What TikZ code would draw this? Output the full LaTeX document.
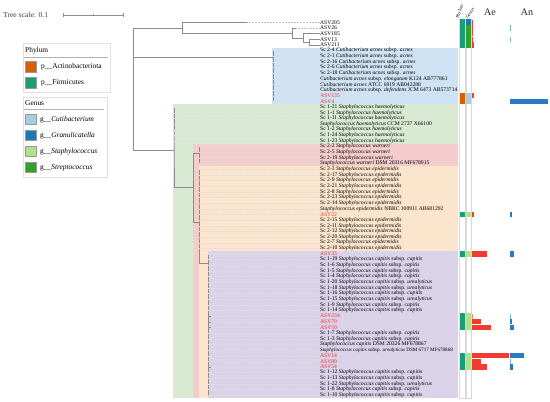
\documentclass[tikz,border=0pt]{standalone}
\usepackage{fontspec}
\setmainfont{Liberation Serif}
\definecolor{cutbox}{HTML}{CFE2F3}
\definecolor{grnbox}{HTML}{D9EAD3}
\definecolor{pinkbox}{HTML}{F4CCCC}
\definecolor{orgbox}{HTML}{FCE5CD}
\definecolor{purbox}{HTML}{D9D2E9}
\definecolor{actino}{HTML}{D95F02}
\definecolor{firmi}{HTML}{1B9E77}
\definecolor{cuti}{HTML}{A6CEE3}
\definecolor{granu}{HTML}{1F78B4}
\definecolor{staph}{HTML}{B2DF8A}
\definecolor{strep}{HTML}{33A02C}
\definecolor{aered}{HTML}{F03C32}
\definecolor{anblue}{HTML}{2B7BC4}
\definecolor{asvred}{HTML}{E8322F}
\definecolor{treegray}{HTML}{8C8C8C}
\tikzset{
 tree/.style={draw=treegray, line width=0.6pt},
 guide/.style={draw=black!13, line width=0.25pt, dash pattern=on 0.6pt off 0.9pt},
 leaf/.style={anchor=west, inner sep=0pt, font=\fontsize{5.6}{6}\selectfont},
 asv/.style={text=asvred},
 lgtext/.style={anchor=west, inner sep=0pt, font=\fontsize{7.4}{8}\selectfont},
 swatch/.style={draw=black!40, line width=0.3pt},
 lgbox/.style={draw=black!12, line width=0.6pt},
 colframe/.style={draw=black!15, line width=0.5pt},
}
\newcommand\lf[3][]{\node[leaf,#1] (l#2) at (320,{22.3+(#2-1)*5.65}) {#3};}
\newcommand\capi[1]{Sc #1 \textit{Staphylococcus capitis} subsp. \textit{capitis}}
\newcommand\urea[1]{Sc #1 \textit{Staphylococcus capitis} subsp. \textit{urealyticus}}
\newcommand\acn[1]{Sc #1 \textit{Cutibacterium acnes} subsp. \textit{acnes}}
\newcommand\hae[1]{Sc #1 \textit{Staphylococcus haemolyticus}}
\newcommand\war[1]{Sc #1 \textit{Staphylococcus warneri}}
\newcommand\epi[1]{Sc #1 \textit{Staphylococcus epidermidis}}
% fill between rows
\newcommand\blockfill[5]{\fill[#1] (#2,{22.3+(#4-1)*5.65-2.825}) rectangle (#3,{22.3+(#5-1)*5.65+2.825});}
\newcommand\rowfill[4]{\fill[#1] (#2,{22.3+(#4-1)*5.65-2.6}) rectangle (#3,{22.3+(#4-1)*5.65+2.6});}
\begin{document}
\begin{tikzpicture}[x=1pt,y=-1pt]
\useasboundingbox (0,0) rectangle (550,402);
\fill[white] (0,0) rectangle (550,402);

% clade backgrounds
\fill[cutbox] (272,47.7) rectangle (458,104.2);
\fill[grnbox] (173,104.2) rectangle (458,398);
\fill[pinkbox] (193,143.8) rectangle (458,398);
\fill[orgbox] (199,166.4) rectangle (458,398);
\fill[purbox] (208,251.1) rectangle (458,398);

% tree scale
\node[lgtext, font=\fontsize{7.6}{8}\selectfont, text=black!75] (scaletxt) at (3,15) {Tree scale: 0.1};
\coordinate (sa) at (63,15);
\coordinate (sb) at (123,15);
\draw[treegray, line width=0.6pt] (sa) -- (sb);
\draw[treegray, line width=0.6pt] (63,13.3) -- (63,16.7) (123,13.3) -- (123,16.7) (93,14.3) -- (93,15.7);

% legend
\draw[lgbox] (23,43) rectangle (110,92);
\node[lgtext] (phyt) at (25,51) {Phylum};
\draw[black!30, line width=0.8pt] (24,57) -- (108,57);
\filldraw[swatch, fill=actino] (25,61) rectangle (36,72);
\node[lgtext] (lga) at (41,66.5) {p\_\_Actinobacteriota};
\filldraw[swatch, fill=firmi] (25,77) rectangle (36,88);
\node[lgtext] (lgf) at (41,82.5) {p\_\_Firmicutes};

\draw[lgbox] (23,97) rectangle (107,177);
\node[lgtext] (gent) at (25,103) {Genus};
\draw[black!30, line width=0.8pt] (24,109.5) -- (104,109.5);
\filldraw[swatch, fill=cuti] (25,114) rectangle (36,124.5);
\node[lgtext] (lgc) at (40,119.5) {g\_\_\textit{Cutibacterium}};
\filldraw[swatch, fill=granu] (25,130) rectangle (36,140.5);
\node[lgtext] (lgg) at (40,135.5) {g\_\_\textit{Granulicatella}};
\filldraw[swatch, fill=staph] (25,146) rectangle (36,156.5);
\node[lgtext] (lgs) at (40,151.5) {g\_\_\textit{Staphylococcus}};
\filldraw[swatch, fill=strep] (25,162) rectangle (36,172.5);
\node[lgtext] (lgst) at (40,167.5) {g\_\_\textit{Streptococcus}};

% leaves
\lf{1}{ASV205}
\lf{2}{ASV26}
\lf{3}{ASV185}
\lf{4}{ASV13}
\lf{5}{ASV211}
\lf{6}{\acn{2-4}}
\lf{7}{\acn{2-1}}
\lf{8}{\acn{2-16}}
\lf{9}{\acn{2-6}}
\lf{10}{\acn{2-18}}
\lf{11}{\textit{Cutibacterium acnes} subsp. \textit{elongatum} K124 AB777861}
\lf{12}{\textit{Cutibacterium acnes} ATCC 6919 AB042288}
\lf{13}{\textit{Cutibacterium acnes} subsp. \textit{defendens} JCM 6473 AB573714}
\lf[asv]{14}{ASV135}
\lf[asv]{15}{ASV4}
\lf{16}{\hae{1-21}}
\lf{17}{\hae{1-1}}
\lf{18}{\hae{1-11}}
\lf{19}{\textit{Staphylococcus haemolyticus} CCM 2737 X66100}
\lf{20}{\hae{1-2}}
\lf{21}{\hae{1-24}}
\lf{22}{\hae{1-23}}
\lf{23}{\war{2-2}}
\lf{24}{\war{2-5}}
\lf{25}{\war{2-19}}
\lf{26}{\textit{Staphylococcus warneri} DSM 20316 MF678915}
\lf{27}{\epi{2-3}}
\lf{28}{\epi{2-17}}
\lf{29}{\epi{2-9}}
\lf{30}{\epi{2-21}}
\lf{31}{\epi{2-8}}
\lf{32}{\epi{2-23}}
\lf{33}{\epi{2-14}}
\lf{34}{\textit{Staphylococcus epidermidis} NBRC 100911 AB681292}
\lf[asv]{35}{ASV22}
\lf{36}{\epi{2-15}}
\lf{37}{\epi{2-11}}
\lf{38}{\epi{2-12}}
\lf{39}{\epi{2-20}}
\lf{40}{\epi{2-7}}
\lf{41}{\epi{2-10}}
\lf[asv]{42}{ASV35}
\lf{43}{\capi{1-19}}
\lf{44}{\capi{1-6}}
\lf{45}{\capi{1-5}}
\lf{46}{\capi{1-4}}
\lf{47}{\urea{1-20}}
\lf{48}{\urea{1-18}}
\lf{49}{\capi{1-16}}
\lf{50}{\urea{1-15}}
\lf{51}{\capi{1-9}}
\lf{52}{\capi{1-14}}
\lf[asv]{53}{ASV234}
\lf[asv]{54}{ASV79}
\lf[asv]{55}{ASV50}
\lf{56}{\capi{1-7}}
\lf{57}{\capi{1-3}}
\lf{58}{\textit{Staphylococcus capitis} DSM 20326 MF678867}
\lf[font=\fontsize{5.1}{6}\selectfont]{59}{\textit{Staphylococcus capitis} subsp. \textit{urealyticus} DSM 6717 MF678868}
\lf[asv]{60}{ASV14}
\lf[asv]{61}{ASV89}
\lf[asv]{62}{ASV54}
\lf{63}{\capi{1-12}}
\lf{64}{\capi{1-13}}
\lf{65}{\urea{1-22}}
\lf{66}{\capi{1-8}}
\lf{67}{\capi{1-10}}

% internal nodes
\coordinate (root) at (133,89);
\coordinate (A) at (182,28);
\coordinate (B) at (292,32.9);
\coordinate (C) at (303,37.9);
\coordinate (D) at (309,42.1);
\coordinate (cut) at (273,57);
\coordinate (G) at (174,150);
\coordinate (P) at (193,187.5);
\coordinate (W) at (199,153);
\coordinate (E) at (199,222);
\coordinate (Cn) at (208,263);
\coordinate (t1) at (247,22.3);
\coordinate (t2) at (296,27.95);

% top clade
\draw[tree] (root) |- (A);
\draw[tree] (root) |- (cut);
\draw[tree] (root) |- (G);
\draw[tree] (A) |- (t1);
\draw[tree] (A) |- (B);
\draw[tree] (B) |- (t2);
\draw[tree] (B) |- (C);
\draw[tree] (C) |- (l3.west);
\draw[tree] (C) |- (D);
\draw[tree] (D) |- (l4.west);
\draw[tree] (D) |- (l5.west);
\draw[guide, draw=black!25] (t1) -- (l1.west);
\draw[guide, draw=black!25] (t2) -- (l2.west);

% Cutibacterium clade
\draw[tree] (cut |- l6.west) -- (cut |- l15.west);
\foreach \r in {6,...,15} {\draw[guide] (cut |- l\r.west) -- (l\r.west);}

% Staphylococcus clade
\draw[tree] (G |- l16.west) -- (G) |- (P);
\foreach \r in {16,...,22} {\draw[guide] (G |- l\r.west) -- (l\r.west);}
\draw[tree] (P) |- (W);
\draw[tree] (P) |- (E);
\draw[tree] (W |- l23.west) -- (W |- l26.west);
\foreach \r in {23,...,26} {\draw[guide] (W |- l\r.west) -- (l\r.west);}
\draw[tree] (E |- l27.west) -- (E |- Cn) -- (Cn);
\foreach \r in {27,...,41} {\draw[guide] (E |- l\r.west) -- (l\r.west);}
\draw[tree] (Cn |- l42.west) -- (Cn |- l67.west);
\foreach \r in {42,...,67} {\draw[guide] (Cn |- l\r.west) -- (l\r.west);}
\foreach \r in {53,54,55,62} {\draw[tree, line width=0.4pt] (Cn |- l\r.west) -- ++(3,0);}

% annotation columns
\draw[colframe] (459.6,19.5) rectangle (465.1,398);
\draw[colframe] (466.2,19.5) rectangle (471.4,398);
\node[anchor=south west, inner sep=0pt, rotate=70, font=\fontsize{4.4}{5}\selectfont] (phyh) at (459.6,19) {Phylum};
\node[anchor=south west, inner sep=0pt, rotate=55, font=\fontsize{4.4}{5}\selectfont] (genh) at (468,19) {Genus};
\node[font=\fontsize{10}{12}\selectfont, text=black!85] (aeh) at (490,12) {Ae};
\node[font=\fontsize{10}{12}\selectfont, text=black!85] (anh) at (527,12) {An};

% phylum
\blockfill{firmi}{459.6}{465.1}{1}{5}
\blockfill{actino}{459.6}{465.1}{14}{15}
\blockfill{firmi}{459.6}{465.1}{35}{35}
\blockfill{firmi}{459.6}{465.1}{42}{42}
\blockfill{firmi}{459.6}{465.1}{53}{55}
\blockfill{firmi}{459.6}{465.1}{60}{62}
% genus
\blockfill{granu}{466.2}{471.4}{1}{1}
\blockfill{strep}{466.2}{471.4}{2}{5}
\blockfill{cuti}{466.2}{471.4}{14}{15}
\blockfill{staph}{466.2}{471.4}{35}{35}
\blockfill{staph}{466.2}{471.4}{42}{42}
\blockfill{staph}{466.2}{471.4}{53}{55}
\blockfill{staph}{466.2}{471.4}{60}{62}

% Ae bars
\rowfill{aered}{472}{472.9}{1}
\rowfill{aered}{472}{472.9}{2}
\rowfill{aered}{472}{472.9}{3}
\rowfill{aered}{472}{472.9}{4}
\rowfill{aered}{472}{474}{5}
\rowfill{aered}{472}{474}{14}
\rowfill{aered}{472}{473.8}{35}
\rowfill{aered}{472}{487}{42}
\rowfill{aered!60}{472}{473.3}{53}
\rowfill{aered}{472}{480.7}{54}
\rowfill{aered}{472}{491}{55}
\rowfill{aered}{472}{509}{60}
\rowfill{aered}{472}{480.7}{61}
\rowfill{aered}{472}{487}{62}

% An bars
\rowfill{anblue!60}{510}{510.9}{2}
\rowfill{anblue!60}{510}{510.9}{4}
\rowfill{anblue}{510}{548}{15}
\rowfill{anblue}{510}{512}{35}
\rowfill{anblue}{510}{514}{42}
\rowfill{anblue!60}{510}{511}{53}
\rowfill{anblue}{510}{512}{54}
\rowfill{anblue}{510}{514}{55}
\rowfill{anblue}{510}{523.5}{60}
\rowfill{anblue!60}{510}{511}{61}
\rowfill{anblue}{510}{512.8}{62}
\end{tikzpicture}
\end{document}
